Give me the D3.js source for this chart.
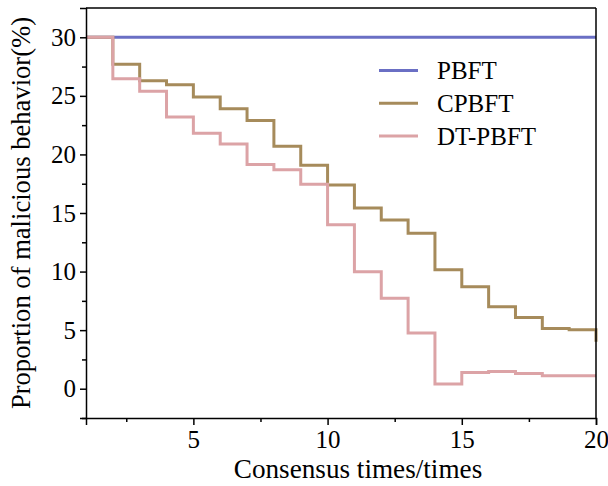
<!DOCTYPE html>
<html>
<head>
<meta charset="utf-8">
<script src="https://cdn.jsdelivr.net/npm/d3@7"></script>
<style>
  body { margin: 0; background: #fff; }
</style>
</head>
<body>
<div id="chart"></div>
<script>
const width = 608, height = 486;
const margin = { top: 8, right: 12, bottom: 68, left: 86 };
const serif = '"Liberation Serif", "Times New Roman", Times, "DejaVu Serif", serif';

// consensus rounds 1..20
const rounds = d3.range(1, 21);
const pbft = [30, 30, 30, 30, 30, 30, 30, 30, 30, 30, 30, 30, 30, 30, 30, 30, 30, 30, 30, 30];
const cpbft = [30, 27.7, 26.3, 25.95, 24.9, 23.9, 22.9, 20.7, 19.07, 17.4, 15.42, 14.4, 13.27, 10.15, 8.7, 7.0, 6.08, 5.14, 5.03, 4.0];
const dtpbft = [30, 26.45, 25.4, 23.2, 21.8, 20.9, 19.15, 18.7, 17.45, 14.0, 9.98, 7.73, 4.75, 0.4, 1.39, 1.47, 1.3, 1.1, 1.1, 1.1];

const seriesNames = ['PBFT', 'CPBFT', 'DT-PBFT'];
const seriesColors = ['#6a6fc4', '#a68b5b', '#dca3a6'];
const seriesValues = [pbft, cpbft, dtpbft];

const xTicks = [5, 10, 15, 20];
const yTicks = [0, 5, 10, 15, 20, 25, 30];

const svg = d3.select('#chart').append('svg')
    .attr('width', width)
    .attr('height', height);

const x = d3.scaleLinear().domain([1, 20]).range([margin.left, width - margin.right]);
const y = d3.scaleLinear().domain([-2.5, 32.5]).range([height - margin.bottom, margin.top]);

// lines
const line = d3.line()
    .x((d, i) => x(rounds[i]))
    .y(d => y(d))
    .curve(d3.curveStepAfter);

svg.append('g')
    .selectAll('path')
    .data(seriesValues)
    .enter().append('path')
    .attr('d', d => line(d))
    .attr('fill', 'none')
    .attr('stroke', (d, i) => seriesColors[i])
    .attr('stroke-width', 3);

// axes
svg.append('g')
    .attr('transform', `translate(0,${height - margin.bottom})`)
    .call(d3.axisBottom(x).tickValues(xTicks).tickSize(7).tickPadding(5));
svg.append('g')
    .attr('transform', `translate(0,${height - margin.bottom})`)
    .call(d3.axisBottom(x).tickValues([2.5, 7.5, 12.5, 17.5]).tickSize(4).tickFormat(''))
    .select('.domain').remove();

svg.append('g')
    .attr('transform', `translate(${margin.left},0)`)
    .call(d3.axisLeft(y).tickValues(yTicks).tickSize(6).tickPadding(4));
svg.append('g')
    .attr('transform', `translate(${margin.left},0)`)
    .call(d3.axisLeft(y).tickValues([-2.5, 2.5, 7.5, 12.5, 17.5, 22.5, 27.5]).tickSize(4).tickFormat(''))
    .select('.domain').remove();

svg.selectAll('.tick text')
    .style('font-size', '25px')
    .style('font-family', serif)
    .attr('fill', '#000');
svg.selectAll('.domain, .tick line')
    .attr('stroke', '#000')
    .attr('stroke-width', 1.5);

// frame top and right
svg.append('line')
    .attr('x1', margin.left).attr('x2', width - margin.right)
    .attr('y1', margin.top).attr('y2', margin.top)
    .attr('stroke', '#000').attr('stroke-width', 1.5);
svg.append('line')
    .attr('x1', width - margin.right).attr('x2', width - margin.right)
    .attr('y1', margin.top).attr('y2', height - margin.bottom)
    .attr('stroke', '#000').attr('stroke-width', 1.5);

// axis titles
svg.append('text')
    .attr('x', 358)
    .attr('y', 478)
    .attr('text-anchor', 'middle')
    .style('font-family', serif)
    .style('font-size', '27.2px')
    .text('Consensus times/times');

svg.append('text')
    .attr('transform', `translate(30,${(margin.top + height - margin.bottom) / 2}) rotate(-90)`)
    .attr('text-anchor', 'middle')
    .style('font-family', serif)
    .style('font-size', '26.6px')
    .text('Proportion of malicious behavior(%)');

// legend
const legend = svg.append('g')
    .selectAll('g')
    .data(seriesNames)
    .enter().append('g')
    .attr('transform', (d, i) => `translate(379,${70.5 + i * 32.7})`);
legend.append('line')
    .attr('x1', 0).attr('x2', 39)
    .attr('stroke', (d, i) => seriesColors[i])
    .attr('stroke-width', 3);
legend.append('text')
    .attr('x', 58)
    .attr('dy', '0.35em')
    .style('font-family', serif)
    .style('font-size', '25px')
    .text(d => d);
</script>
</body>
</html>
